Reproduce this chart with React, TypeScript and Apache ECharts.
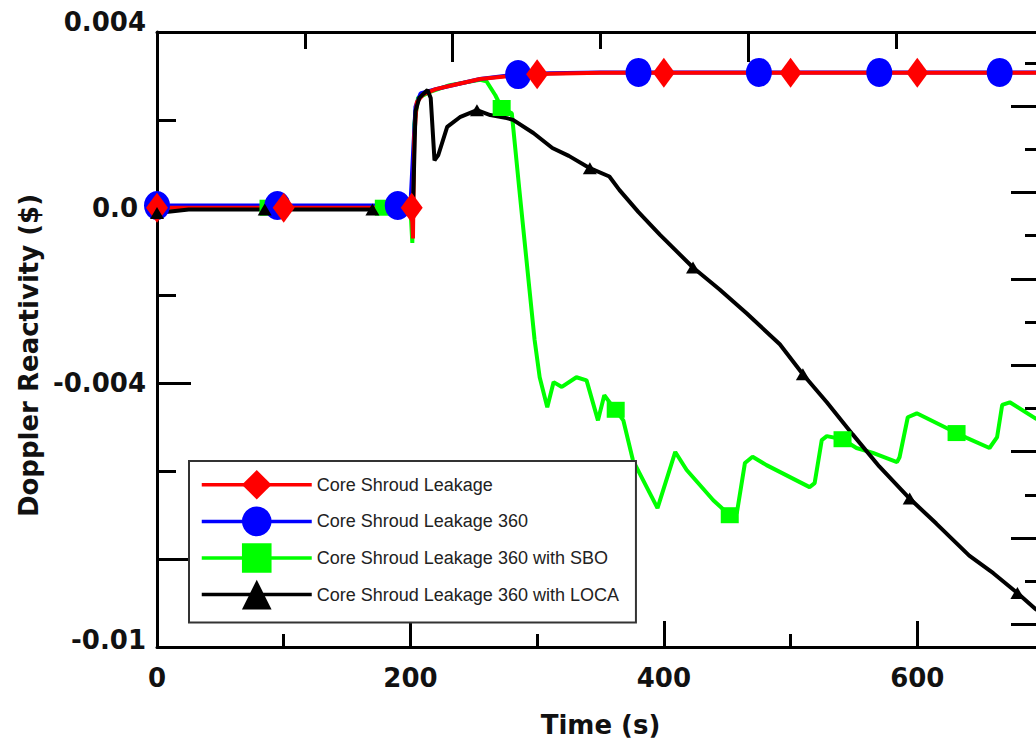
import React, { useEffect, useRef } from "react";
import * as echarts from "echarts";

type Pt = [number, number];

const seriesNames = [
  "Core Shroud Leakage",
  "Core Shroud Leakage 360",
  "Core Shroud Leakage 360 with SBO",
  "Core Shroud Leakage 360 with LOCA",
];

// axis ticks / labels
const xTickLabels = [0, 200, 400, 600];
const xMajorTicks = [200, 400, 600];
const xMinorTicks = [100, 300, 500];
const yTickLabels = [0.004, 0, -0.004, -0.01];
const yMajorTicks = [0, -0.004, -0.008];
const yMinorTicks = [0.002, -0.002, -0.006];
const topMajorTicks = [2, 4, 6];
const topMinorTicks = [1, 3, 5];
const rightMajorTicks = [0, 2, 4, 6, 8, 10, 12];
const rightMinorTicks = [1, 3, 5, 7, 9, 11, 13];

// Core Shroud Leakage (red)
const redCurve: Pt[] = [
  [0, 0], [201, 0], [202, -0.0007], [203, 0.0016], [205, 0.0024], [210, 0.00258],
  [220, 0.0027], [235, 0.0028], [255, 0.00293], [280, 0.003], [310, 0.00305],
  [350, 0.00307], [700, 0.00307],
];
const redMarkers: Pt[] = [
  [0, 0], [100, 0], [201, 0], [300, 0.00304], [400, 0.00307], [500, 0.00307], [600, 0.00307],
];

// Core Shroud Leakage 360 (blue)
const blueCurve: Pt[] = [
  [0, 0.00005], [200, 0.00005], [202, 0.0012], [204, 0.0023], [208, 0.0026],
  [220, 0.0027], [235, 0.0028], [255, 0.00293], [280, 0.00302], [310, 0.00306],
  [350, 0.00308], [700, 0.00308],
];
const blueMarkers: Pt[] = [
  [0, 0.00005], [95, 0.00005], [190, 0.00005], [285, 0.00303], [380, 0.00308],
  [475, 0.00308], [570, 0.00308], [665, 0.00308],
];

// Core Shroud Leakage 360 with SBO (green)
const greenCurve: Pt[] = [
  [0, 0], [200, 0], [201.5, -0.0008], [203, 0.0019], [206, 0.0025], [215, 0.00263],
  [231, 0.00279], [255, 0.00291], [260, 0.00288], [267, 0.00256], [272, 0.00227],
  [280, 0.00215], [286, 0.0004], [290, -0.00074], [294, -0.00188], [298, -0.00301],
  [302, -0.00386], [308, -0.00454], [313, -0.00397], [319.5, -0.00408], [331, -0.00386],
  [339, -0.00393], [348, -0.00484], [353, -0.00427], [360, -0.00454], [368, -0.00484],
  [375.6, -0.00575], [395, -0.00684], [409, -0.00556], [418, -0.00597], [439, -0.00666],
  [452, -0.007], [457.6, -0.00695], [464, -0.00581], [470, -0.00567], [481, -0.00586],
  [515, -0.00636], [519, -0.00627], [524.6, -0.00529], [528.6, -0.0052], [541, -0.00527],
  [552, -0.00547], [565, -0.00558], [584, -0.00579], [586, -0.00568], [592.5, -0.00477],
  [599.6, -0.00468], [631, -0.00513], [639, -0.00524], [657, -0.00547], [663, -0.00522],
  [667, -0.00449], [673, -0.00443], [693.5, -0.0048], [700, -0.00487],
];
const greenMarkers: Pt[] = [
  [0, 0], [88, 0], [179, 0], [272, 0.00227], [362, -0.0046], [452, -0.007],
  [541, -0.00527], [631, -0.00513],
];

// Core Shroud Leakage 360 with LOCA (black)
const blackCurve: Pt[] = [
  [0, -0.00012], [25, -0.00004], [202, -0.00004], [204, 0.0022], [207, 0.0025],
  [213.5, 0.00268], [216, 0.0025], [219, 0.00108], [222, 0.0012], [229, 0.00184],
  [239, 0.00206], [252.5, 0.00222], [263, 0.00211], [276, 0.00204], [281, 0.002],
  [297, 0.0017], [312, 0.00136], [325, 0.00118], [341.6, 0.0009], [357, 0.00071],
  [365, 0.0004], [380, -0.0001], [397, -0.00062], [423, -0.00136], [444, -0.00186],
  [465.5, -0.00241], [491.5, -0.00311], [509.7, -0.00379], [528.6, -0.00443],
  [549, -0.00516], [570, -0.00589], [594, -0.00662], [615, -0.00719], [641, -0.00792],
  [660, -0.00832], [679, -0.00877], [693.5, -0.00914], [700, -0.00927],
];
const blackMarkers: Pt[] = [
  [0, -0.00012], [85, -0.00004], [170, -0.00004], [252.5, 0.00222], [341.6, 0.0009],
  [423, -0.00136], [509.7, -0.00379], [594, -0.00662], [679, -0.00877],
];

function withMarkers(curve: Pt[], markers: Pt[], size: number | number[]) {
  const items: any[] = [
    ...curve.map((p) => ({ value: p, symbol: "none", m: 0 })),
    ...markers.map((p) => ({ value: p, symbolSize: size, m: 1 })),
  ];
  items.sort((a, b) => a.value[0] - b.value[0] || a.m - b.m);
  return items.map(({ m, ...rest }) => rest);
}

const near = (a: number, b: number) => Math.abs(a - b) < 1e-9;
const boldFont = { fontFamily: "DejaVu Sans", fontWeight: "bold" as const, fontSize: 26, color: "#111" };

const W = 1080;
const H = 748;
const GRID = { left: 157, top: 32, right: W - 1044, bottom: H - 647 };

export default function App() {
  const ref = useRef<HTMLDivElement>(null);
  useEffect(() => {
    if (!ref.current) return;
    const chart = echarts.init(ref.current, undefined, { renderer: "svg" });
    const line = { lineStyle: { color: "#000", width: 3 }, onZero: false };
    const hiddenLine = { show: false, onZero: false };
    const tick = (vals: number[], len: number) => ({
      show: true, inside: true, length: len, customValues: vals,
      lineStyle: { color: "#000", width: 3 },
    });
    const mkSeries = (name: string, color: string, data: any[], symbol: string, size: any) => ({
      name, type: "line", data, symbol, symbolSize: size, showSymbol: true, showAllSymbol: true,
      lineStyle: { color, width: 4 }, itemStyle: { color }, silent: true, clip: true,
      xAxisIndex: 0, yAxisIndex: 0,
    });
    const option: any = {
      animation: false,
      grid: GRID,
      legend: {
        data: seriesNames,
        orient: "vertical",
        left: 189,
        top: 461,
        itemWidth: 110,
        itemHeight: 37,
        itemGap: 7,
        padding: [9, 17, 13, 11],
        backgroundColor: "#fff",
        borderColor: "#333",
        borderWidth: 2,
        borderRadius: 0,
        lineStyle: { width: 3.5 },
        textStyle: { fontSize: 18, fontFamily: "Liberation Sans", color: "#222" },
        selectedMode: false,
      },
      xAxis: [
        {
          type: "value", position: "bottom", min: 0, max: 700,
          axisLine: line, axisTick: tick(xMajorTicks, 26), splitLine: { show: false },
          axisLabel: { ...boldFont, margin: 18, customValues: xTickLabels, formatter: (v: number) => String(v) },
          name: "Time (s)", nameLocation: "middle", nameGap: 65, nameTextStyle: boldFont,
        },
        {
          type: "value", position: "bottom", min: 0, max: 700,
          axisLine: hiddenLine, axisTick: tick(xMinorTicks, 13), splitLine: { show: false },
          axisLabel: { show: false },
        },
        {
          type: "value", position: "top", min: 0, max: 6,
          axisLine: line, axisTick: tick(topMajorTicks, 30), splitLine: { show: false },
          axisLabel: { show: false },
        },
        {
          type: "value", position: "top", min: 0, max: 6,
          axisLine: hiddenLine, axisTick: tick(topMinorTicks, 17), splitLine: { show: false },
          axisLabel: { show: false },
        },
      ],
      yAxis: [
        {
          type: "value", position: "left", min: -0.01, max: 0.004,
          axisLine: line, axisTick: tick(yMajorTicks, 34), splitLine: { show: false },
          axisLabel: {
            ...boldFont, margin: 11, customValues: yTickLabels,
            formatter: (v: number) => {
              if (near(v, 0.004)) return "{top|0.004}";
              if (near(v, 0)) return "{zero|0.0}";
              if (near(v, -0.004)) return "-0.004";
              if (near(v, -0.01)) return "{bot|-0.01}";
              return "";
            },
            rich: {
              top: { ...boldFont, padding: [0, 0, 20, 0] },
              zero: { ...boldFont, padding: [0, 8, 0, 0] },
              bot: { ...boldFont, padding: [0, 0, 14, 0] },
            },
          },
          name: "Doppler Reactivity ($)", nameLocation: "middle", nameGap: 114,
          nameTextStyle: { ...boldFont, padding: [0, 32, 0, 0] },
        },
        {
          type: "value", position: "left", min: -0.01, max: 0.004,
          axisLine: hiddenLine, axisTick: tick(yMinorTicks, 19), splitLine: { show: false },
          axisLabel: { show: false },
        },
        {
          type: "value", position: "right", min: -0.523, max: 13.713,
          axisLine: line, axisTick: tick(rightMajorTicks, 33), splitLine: { show: false },
          axisLabel: { show: false },
        },
        {
          type: "value", position: "right", min: -0.523, max: 13.713,
          axisLine: hiddenLine, axisTick: tick(rightMinorTicks, 19), splitLine: { show: false },
          axisLabel: { show: false },
        },
      ],
      series: [
        mkSeries(seriesNames[2], "#00ff00", withMarkers(greenCurve, greenMarkers, [18, 16]), "rect", [18, 16]),
        mkSeries(seriesNames[1], "#0000ff", withMarkers(blueCurve, blueMarkers, [26, 29]), "circle", [26, 29]),
        mkSeries(seriesNames[0], "#ff0000", withMarkers(redCurve, redMarkers, [22, 30]), "diamond", [22, 30]),
        mkSeries(seriesNames[3], "#000000", withMarkers(blackCurve, blackMarkers, [14, 12]), "triangle", [14, 12]),
      ],
    };
    chart.setOption(option);
    return () => chart.dispose();
  }, []);
  return (
    <div
      ref={ref}
      style={{ position: "fixed", left: 0, top: 0, width: W, height: H, background: "#fff" }}
    />
  );
}
